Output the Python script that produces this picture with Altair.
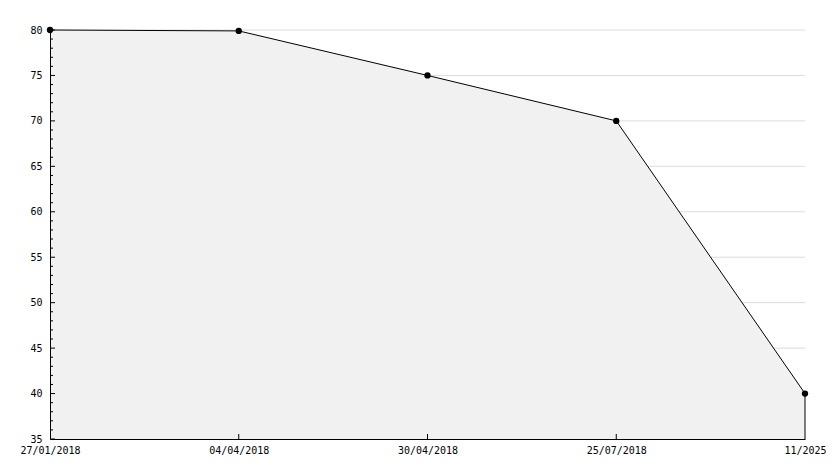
import altair as alt
import pandas as pd

# ---- data ----
categories = ["27/01/2018", "04/04/2018", "30/04/2018", "25/07/2018", "11/2025"]
values = [80, 79.9, 75, 70, 40]
y_major = [35, 40, 45, 50, 55, 60, 65, 70, 75, 80]
y_grid = [40, 45, 50, 55, 60, 65, 70, 75, 80]
y_minor = [v for v in range(36, 80) if v % 5 != 0]
y_min, y_max = 35, 80

W, H = 755, 409
FONT = "DejaVu Sans Mono"

df = pd.DataFrame({"date": categories, "value": values})
df_last = df.iloc[-1:].copy()
df_xticks = pd.DataFrame({"date": categories[1:-1]})
df_grid = pd.DataFrame({"v": y_grid})
df_major = pd.DataFrame({"v": y_major})
df_minor = pd.DataFrame({"v": y_minor})

xscale = alt.Scale(type="point", padding=0, domain=categories)
yscale = alt.Scale(domain=[y_min, y_max], nice=False, zero=False)

xaxis = alt.Axis(title=None, labelAngle=0, ticks=False, grid=False,
                 domainColor="black", domainWidth=1, labelFont=FONT,
                 labelFontSize=10, labelColor="black", labelPadding=6,
                 labelBaseline="top", labelOverlap=False, zindex=2)
yaxis = alt.Axis(title=None, ticks=False, grid=False, values=y_major,
                 domainColor="black", domainWidth=1, labelFont=FONT,
                 labelFontSize=10, labelColor="black", labelPadding=8,
                 zindex=2)

X = lambda f: alt.X(f, scale=xscale, axis=xaxis, sort=categories)
Y = lambda f: alt.Y(f, scale=yscale, axis=yaxis)

grid = alt.Chart(df_grid).mark_rule(color="#dcdcdc", strokeWidth=1).encode(
    y=Y("v:Q"), x=alt.value(0), x2=alt.value(W))

area = alt.Chart(df).mark_area(color="#f1f1f1", opacity=1).encode(
    x=X("date:N"), y=Y("value:Q"), y2=alt.Y2(datum=y_min))

line = alt.Chart(df).mark_line(color="black", strokeWidth=1).encode(
    x=X("date:N"), y=Y("value:Q"))

edge = alt.Chart(df_last).mark_rule(color="black", strokeWidth=1).encode(
    x=X("date:N"), y=Y("value:Q"), y2=alt.Y2(datum=y_min))

minor = alt.Chart(df_minor).mark_rule(color="black", strokeWidth=1).encode(
    y=Y("v:Q"), x=alt.value(0), x2=alt.value(3))

major = alt.Chart(df_major).mark_rule(color="black", strokeWidth=1).encode(
    y=Y("v:Q"), x=alt.value(0), x2=alt.value(5))

xticks = alt.Chart(df_xticks).mark_rule(color="black", strokeWidth=1).encode(
    x=X("date:N"), y=alt.value(H), y2=alt.value(H - 5))

points = alt.Chart(df).mark_point(shape="circle", filled=True, color="black",
                                  size=40, opacity=1).encode(
    x=X("date:N"), y=Y("value:Q"))

chart = alt.layer(grid, area, line, edge, minor, major, xticks, points).properties(
    width=W, height=H,
    padding={"left": 42, "top": 22, "right": 21, "bottom": 18},
    autosize=alt.AutoSizeParams(type="none"),
    background="white",
).configure_view(stroke=None)

chart.save("out.html", embed_options={"renderer": "svg", "actions": False})
